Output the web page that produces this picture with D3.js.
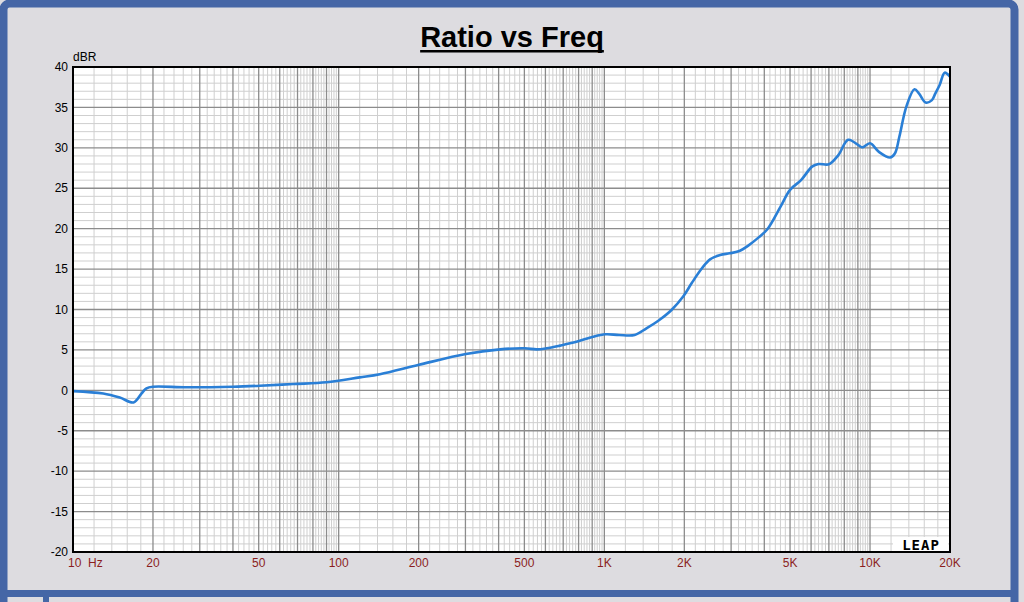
<!DOCTYPE html>
<html><head><meta charset="utf-8">
<script src="https://cdn.jsdelivr.net/npm/d3@7"></script>
<style>
html,body{margin:0;padding:0;background:#dddce0;overflow:hidden;}
svg{display:block;}
</style></head>
<body><svg id="c" width="1024" height="602"></svg>
<script>
const freqs = [10,13,15,16.9,18.1,18.9,20,26.8,40,50.5,67.4,90,120,143,199,301,405,502,556,606,681,785,907,1010,1136,1300,1440,1610,1790,1980,2130,2330,2500,2730,2960,3200,3500,3770,4100,4600,5000,5500,6050,6400,7000,7600,8280,9200,9400,10000,10800,11900,12400,12900,13700,14700,15300,16200,17100,17600,18300,19100,20000];
const ratioDb = [-0.1,-0.4,-0.9,-1.5,-0.4,0.25,0.45,0.38,0.45,0.57,0.78,0.99,1.6,2.0,3.13,4.5,5.07,5.2,5.07,5.2,5.53,6.0,6.63,6.93,6.85,6.85,7.67,8.7,9.94,11.6,13.24,15.1,16.2,16.74,16.95,17.2,17.96,18.8,19.9,22.7,24.8,26.0,27.67,28.0,27.96,29.1,31.0,30.15,30.07,30.56,29.5,28.8,29.3,31.4,35.1,37.24,36.7,35.6,35.9,36.7,37.8,39.3,38.8];
const yTicks = [40,35,30,25,20,15,10,5,0,-5,-10,-15,-20];
const xTickValues = [10,20,50,100,200,500,1000,2000,5000,10000,20000];
const xTickLabels = ["10  Hz","20","50","100","200","500","1K","2K","5K","10K","20K"];
const titleText = "Ratio vs Freq";
const yUnit = "dBR";

const svg = d3.select("#c");
const W = 1024, H = 602;
const blue = "#4566a6", panel = "#dddce0";

// frame
svg.append("rect").attr("x",0).attr("y",0).attr("width",W).attr("height",H).attr("fill",panel);
svg.append("rect").attr("x",3.5).attr("y",3.5).attr("width",1011).attr("height",640)
  .attr("rx",6).attr("fill",panel).attr("stroke",blue).attr("stroke-width",8);
svg.append("rect").attr("x",0).attr("y",590).attr("width",1015).attr("height",7).attr("fill",blue);
svg.append("rect").attr("x",43).attr("y",597).attr("width",6).attr("height",10).attr("fill",blue);

const L = 73, R = 950, T = 67, B = 552;
const x = d3.scaleLog().domain([10,20000]).range([L,R]);
const y = d3.scaleLinear().domain([-20,40]).range([B,T]);

svg.append("rect").attr("x",L).attr("y",T).attr("width",R-L).attr("height",B-T).attr("fill","#fff");

// grid
const minorX = [], majorX = [];
for (let d of [10,100,1000,10000]) {
  for (let m = 1; m < 10; m++) {
    const v = d*m;
    if (v > 10 && v < 20000) majorX.push(v);
    for (let s = 1; s < 5; s++) {
      const w = d*(m + s*0.2);
      if (w < 20000) minorX.push(w);
    }
  }
}
const g = svg.append("g");
g.selectAll(".mx").data(minorX).join("line")
  .attr("x1",d=>x(d)).attr("x2",d=>x(d)).attr("y1",T).attr("y2",B)
  .attr("stroke","#cfcfcf").attr("stroke-width",1);
const minorY = d3.range(-20,41,1).filter(v=>v%5!==0);
g.selectAll(".my").data(minorY).join("line")
  .attr("x1",L).attr("x2",R).attr("y1",d=>y(d)).attr("y2",d=>y(d))
  .attr("stroke","#cfcfcf").attr("stroke-width",1);
g.selectAll(".Mx").data(majorX).join("line")
  .attr("x1",d=>x(d)).attr("x2",d=>x(d)).attr("y1",T).attr("y2",B)
  .attr("stroke","#8c8c8c").attr("stroke-width",1.3);
g.selectAll(".My").data(yTicks.filter(v=>v>-20&&v<40)).join("line")
  .attr("x1",L).attr("x2",R).attr("y1",d=>y(d)).attr("y2",d=>y(d))
  .attr("stroke","#8c8c8c").attr("stroke-width",1.3);

// curve
const line = d3.line().x((d,i)=>x(freqs[i])).y(d=>y(d)).curve(d3.curveCatmullRom.alpha(0.5));
svg.append("path").datum(ratioDb).attr("d",line).attr("fill","none")
  .attr("stroke","#2a7fd6").attr("stroke-width",2.6).attr("stroke-linejoin","round");

// LEAP logo
svg.append("rect").attr("x",893).attr("y",537).attr("width",55).attr("height",14).attr("fill","#fff");
svg.append("text").attr("x",921).attr("y",550).attr("text-anchor","middle")
  .attr("font-family","DejaVu Sans Mono").attr("font-weight","bold").attr("font-size",14)
  .attr("letter-spacing",1).attr("fill","#000").text("LEAP");

// border
svg.append("rect").attr("x",L).attr("y",T).attr("width",R-L).attr("height",B-T)
  .attr("fill","none").attr("stroke","#000").attr("stroke-width",2);

// y labels
svg.selectAll(".yl").data(yTicks).join("text")
  .attr("x",68).attr("y",d=>y(d)).attr("dy","0.35em").attr("text-anchor","end")
  .attr("font-family","Liberation Sans, Arial").attr("font-size",12).attr("fill","#000")
  .text(d=>d);
svg.append("text").attr("x",73).attr("y",61).attr("font-family","Liberation Sans, Arial")
  .attr("font-size",12).attr("fill","#000").text(yUnit);

// x labels
svg.selectAll(".xl").data(xTickValues).join("text")
  .attr("x",(d,i)=> i===0 ? 68 : x(d)).attr("y",563).attr("dy","0.35em")
  .attr("text-anchor",(d,i)=> i===0 ? "start" : "middle")
  .attr("font-family","Liberation Sans, Arial").attr("font-size",12).attr("fill","#8b1e1e")
  .attr("xml:space","preserve").style("white-space","pre")
  .text((d,i)=>xTickLabels[i]);

// title
const tt = svg.append("text").attr("x",512).attr("y",47).attr("text-anchor","middle")
  .attr("font-family","Liberation Sans, Arial").attr("font-weight","bold").attr("font-size",29)
  .attr("fill","#000").text(titleText);
const bb = tt.node().getBBox();
svg.append("rect").attr("x",bb.x).attr("y",50).attr("width",bb.width).attr("height",2.5).attr("fill","#000");
</script>
</body></html>
